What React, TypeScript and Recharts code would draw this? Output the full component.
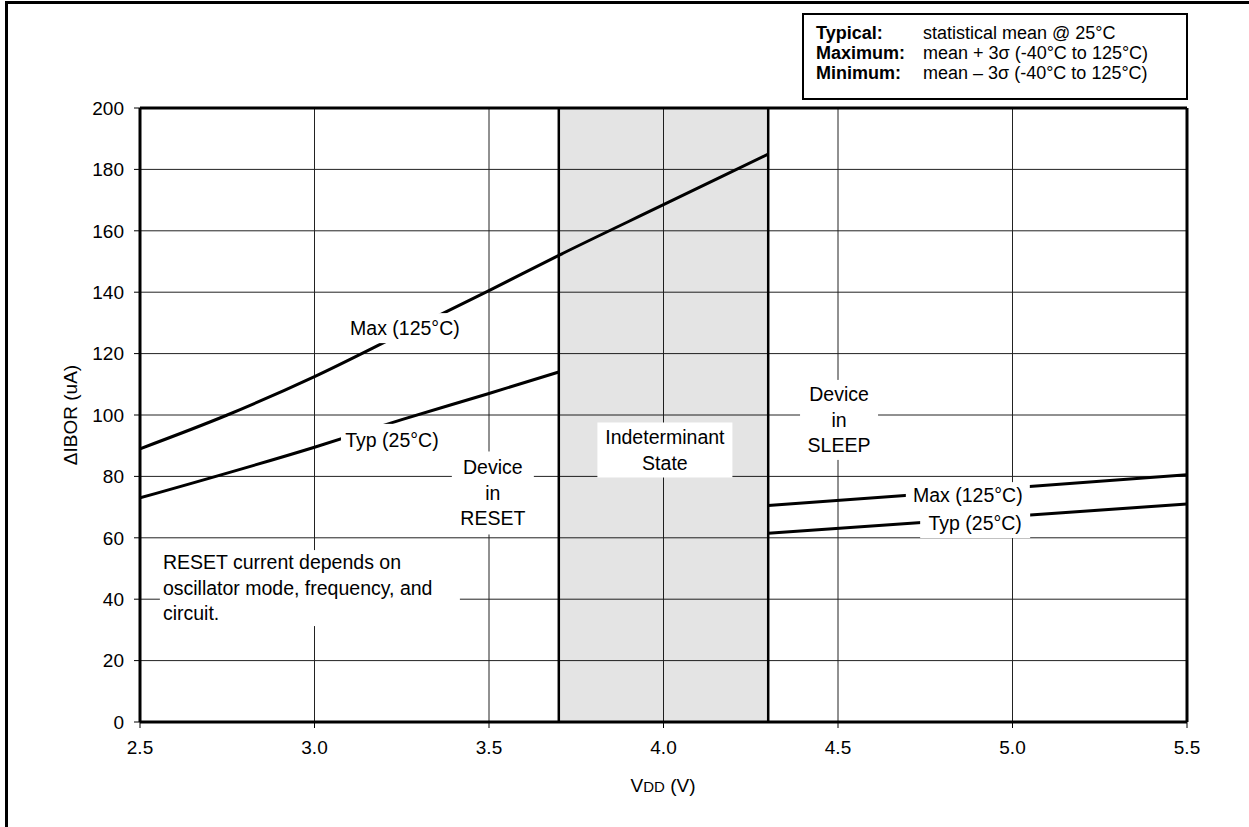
import React from "react";
import {
  ComposedChart,
  Line,
  XAxis,
  YAxis,
  CartesianGrid,
  ReferenceArea,
  ReferenceLine,
  ReferenceDot,
} from "recharts";

// axis ticks
const vddTicks = [2.5, 3.0, 3.5, 4.0, 4.5, 5.0, 5.5];
const iborTicks = [0, 20, 40, 60, 80, 100, 120, 140, 160, 180, 200];

// device in RESET (below BOR trip point)
const maxResetV = [2.5, 2.75, 3.0, 3.25, 3.5, 3.7, 4.0, 4.3];
const maxResetI = [89, 100, 112.5, 126.5, 140.5, 152, 168.5, 185];
const typResetV = [2.5, 3.0, 3.25, 3.5, 3.7];
const typResetI = [73, 89.5, 98.5, 107, 114];

// device in SLEEP
const maxSleepV = [4.3, 5.5];
const maxSleepI = [70.5, 80.5];
const typSleepV = [4.3, 5.5];
const typSleepI = [61.5, 71];

// indeterminant band
const bandStart = 3.7;
const bandEnd = 4.3;

const zip = (v: number[], i: number[]) => v.map((vdd, k) => ({ vdd, ibor: i[k] }));

const FONT = '"Liberation Sans", Arial, Helvetica, sans-serif';

type NoteProps = {
  cx?: number;
  cy?: number;
  lines: string[];
  w: number;
  h: number;
  align?: "middle" | "start";
};

// white boxed text placed on the plot
const NoteBox = ({ cx = 0, cy = 0, lines, w, h, align = "middle" }: NoteProps) => {
  const left = align === "middle" ? cx - w / 2 : cx;
  const top = align === "middle" ? cy - h / 2 : cy;
  const lh = 25.5;
  const firstY = top + h / 2 - ((lines.length - 1) * lh) / 2;
  const tx = align === "middle" ? cx : cx + 3;
  return (
    <g>
      <rect x={left} y={top} width={w} height={h} fill="#fff" />
      <text textAnchor={align} fontSize={19.5} fontFamily={FONT} fill="#000">
        {lines.map((l, i) => (
          <tspan key={i} x={tx} y={firstY + i * lh} dy="0.35em">
            {l}
          </tspan>
        ))}
      </text>
    </g>
  );
};

const notes: { x: number; y: number; lines: string[]; w: number; h: number; align?: "middle" | "start" }[] = [
  { x: 3.259, y: 128.3, lines: ["Max (125°C)"], w: 118, h: 30 },
  { x: 3.222, y: 91.9, lines: ["Typ (25°C)"], w: 102, h: 32 },
  { x: 3.511, y: 74.6, lines: ["Device", "in", "RESET"], w: 82, h: 83 },
  { x: 4.004, y: 88.6, lines: ["Indeterminant", "State"], w: 135, h: 55 },
  { x: 4.503, y: 98.4, lines: ["Device", "in", "SLEEP"], w: 78, h: 80 },
  { x: 4.872, y: 73.9, lines: ["Max (125°C)"], w: 124, h: 26 },
  { x: 4.893, y: 64.8, lines: ["Typ (25°C)"], w: 110, h: 30 },
  {
    x: 2.557,
    y: 56,
    lines: ["RESET current depends on", "oscillator mode, frequency, and", "circuit."],
    w: 300,
    h: 76,
    align: "start",
  },
];

const lineStyle = { stroke: "#000", strokeWidth: 3, dot: false, isAnimationActive: false };

export default function App() {
  return (
    <div
      style={{
        position: "absolute",
        left: 0,
        top: 0,
        width: 1249,
        height: 827,
        overflow: "hidden",
        background: "#fff",
        fontFamily: FONT,
      }}
    >
      {/* page frame */}
      <div
        style={{
          position: "absolute",
          left: 5,
          top: 1,
          width: 1400,
          height: 1000,
          border: "3px solid #000",
        }}
      />
      <div style={{ position: "absolute", left: 0, top: 0 }}>
        <ComposedChart
          width={1249}
          height={827}
          margin={{ top: 108, right: 62, bottom: 65, left: 80 }}
        >
          <CartesianGrid stroke="#222" strokeWidth={1} />
          <XAxis
            type="number"
            dataKey="vdd"
            domain={[2.5, 5.5]}
            ticks={vddTicks}
            allowDataOverflow
            tickFormatter={(v: number) => v.toFixed(1)}
            height={40}
            axisLine={{ stroke: "#000", strokeWidth: 3 }}
            tickLine={{ stroke: "#000", strokeWidth: 1 }}
            tickSize={6}
            tickMargin={13}
            tick={{ fill: "#000", fontSize: 19, fontFamily: FONT }}
          />
          <YAxis
            type="number"
            dataKey="ibor"
            domain={[0, 200]}
            ticks={iborTicks}
            width={60}
            axisLine={{ stroke: "#000", strokeWidth: 3 }}
            tickLine={{ stroke: "#000", strokeWidth: 1 }}
            tickSize={6}
            tickMargin={10}
            tick={{ fill: "#000", fontSize: 19, fontFamily: FONT }}
          />
          <ReferenceArea
            x1={bandStart}
            x2={bandEnd}
            y1={0}
            y2={200}
            fill="#000"
            fillOpacity={0.107}
            stroke="none"
          />
          <ReferenceLine x={bandStart} stroke="#000" strokeWidth={2.5} />
          <ReferenceLine x={bandEnd} stroke="#000" strokeWidth={2.5} />
          <ReferenceLine y={200} stroke="#000" strokeWidth={3} />
          <ReferenceLine x={5.5} stroke="#000" strokeWidth={3} />
          <Line data={zip(maxResetV, maxResetI)} dataKey="ibor" type="monotone" {...lineStyle} />
          <Line data={zip(typResetV, typResetI)} dataKey="ibor" type="monotone" {...lineStyle} />
          <Line data={zip(maxSleepV, maxSleepI)} dataKey="ibor" type="linear" {...lineStyle} />
          <Line data={zip(typSleepV, typSleepI)} dataKey="ibor" type="linear" {...lineStyle} />
          {notes.map((n, i) => (
            <ReferenceDot
              key={i}
              x={n.x}
              y={n.y}
              r={1}
              ifOverflow="visible"
              shape={(p: any) => (
                <NoteBox cx={p.cx} cy={p.cy} lines={n.lines} w={n.w} h={n.h} align={n.align} />
              )}
            />
          ))}
        </ComposedChart>
      </div>

      {/* y axis title */}
      <div
        style={{
          position: "absolute",
          left: 71 - 100,
          top: 415 - 12,
          width: 200,
          height: 24,
          lineHeight: "24px",
          textAlign: "center",
          fontSize: 19,
          color: "#000",
          transform: "rotate(-90deg)",
        }}
      >
        ΔIBOR (uA)
      </div>

      {/* x axis title */}
      <div
        style={{
          position: "absolute",
          left: 663 - 100,
          top: 786 - 12,
          width: 200,
          height: 24,
          lineHeight: "24px",
          textAlign: "center",
          fontSize: 19,
          color: "#000",
        }}
      >
        V<span style={{ fontSize: 15 }}>DD</span> (V)
      </div>

      {/* conditions legend */}
      <div
        style={{
          position: "absolute",
          left: 802,
          top: 13,
          width: 386,
          height: 87,
          boxSizing: "border-box",
          border: "2px solid #000",
          background: "#fff",
          paddingTop: 8,
          paddingLeft: 12,
          fontSize: 18,
          lineHeight: "20px",
          color: "#000",
        }}
      >
        {[
          ["Typical:", "statistical mean @ 25°C"],
          ["Maximum:", "mean + 3σ (-40°C to 125°C)"],
          ["Minimum:", "mean – 3σ (-40°C to 125°C)"],
        ].map(([k, v]) => (
          <div key={k} style={{ display: "flex", whiteSpace: "nowrap" }}>
            <span style={{ fontWeight: "bold", width: 107 }}>{k}</span>
            <span>{v}</span>
          </div>
        ))}
      </div>
    </div>
  );
}
